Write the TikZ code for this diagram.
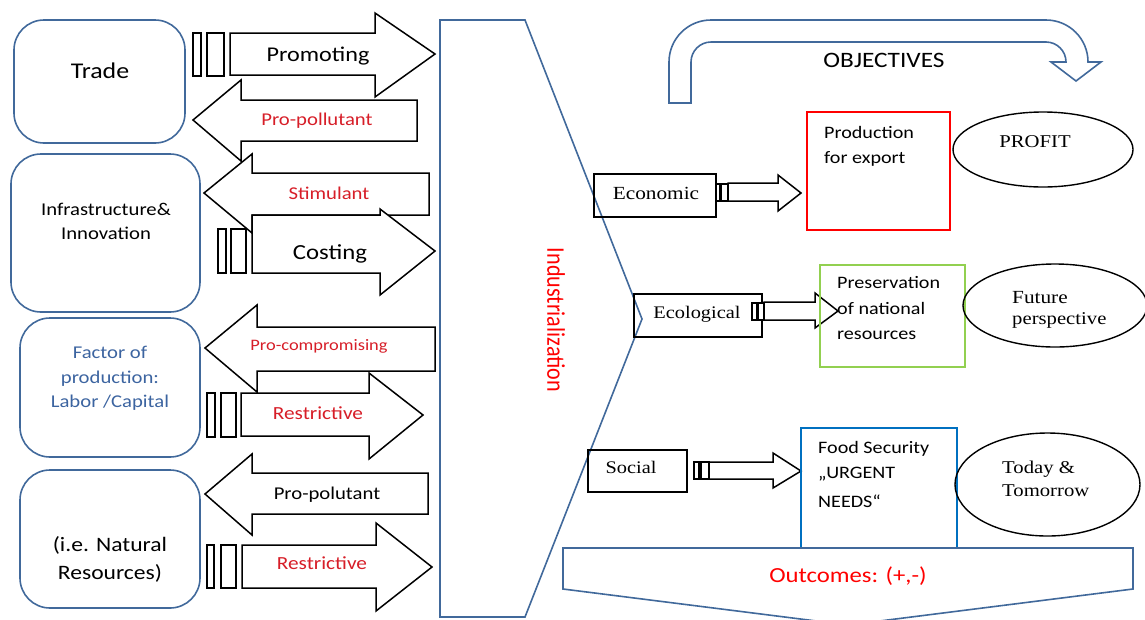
\documentclass[tikz,border=0pt]{standalone}
\usepackage{fontspec}
\setmainfont{Carlito}[FakeStretch=1.15]
\newfontfamily\serifF{Liberation Serif}[FakeStretch=1.15]
\newfontfamily\condF{Carlito}[FakeStretch=0.87]
\definecolor{frameblue}{RGB}{65,105,155}
\definecolor{labred}{RGB}{215,30,40}
\definecolor{brightred}{RGB}{255,0,0}
\definecolor{txtblue}{RGB}{60,100,160}
\definecolor{presgreen}{RGB}{146,208,80}
\definecolor{foodblue}{RGB}{0,112,192}
\newcommand\fsz[1]{\fontsize{#1}{#1}\selectfont}
\newcommand\BArr[8]{\draw[blk] (#1,#4) -- (#2,#4) -- (#2,#6) -- (#3,#8) -- (#2,#7) -- (#2,#5) -- (#1,#5) -- cycle;}
\begin{document}
\begin{tikzpicture}[x=1pt,y=-1pt,
  blk/.style={draw=black,line width=1.5pt,fill=white,line join=miter},
  barbox/.style={draw=black,line width=1.3pt,fill=white},
  frm/.style={draw=frameblue,line width=1.6pt},
  rbox/.style={frm,rounded corners=30pt},
  sbox/.style={draw=black,line width=1.5pt},
  txt/.style={inner sep=0pt,anchor=base},
  ltxt/.style={inner sep=0pt,anchor=base west}]
\useasboundingbox (0,0) rectangle (1145,619);
\clip (0,0) rectangle (1145,619);

% left rounded boxes
\draw[rbox] (14,20) rectangle (185,143);
\draw[rbox] (11,154) rectangle (200,312);
\draw[rbox] (20,318) rectangle (200,457);
\draw[rbox] (20,470) rectangle (200,608);
\node[txt,font=\fsz{22.5}] (trade) at (100,78) {Trade};
\node[txt,font=\fsz{18}] (infra1) at (106,215) {Infrastructure\&};
\node[txt,font=\fsz{18}] (infra2) at (106,239) {Innovation};
\node[txt,font=\fsz{18},text=txtblue] (fac1) at (110,358) {Factor of};
\node[txt,font=\fsz{18},text=txtblue] (fac2) at (110,383) {production:};
\node[txt,font=\fsz{18},text=txtblue] (fac3) at (110,407) {Labor /Capital};
\node[txt,font=\fsz{20.5}] (nat1) at (110,551) {(i.e. Natural};
\node[txt,font=\fsz{20.5}] (nat2) at (110,579) {Resources)};

% block arrows
\draw[barbox] (193,33) rectangle (201,76);
\draw[barbox] (207,33) rectangle (224,76);
\BArr{230}{375}{435}{33}{75}{13}{97}{54}
\node[txt,font=\fsz{21}] (promoting) at (318,61) {Promoting};

\BArr{417}{241}{193}{100}{141}{80}{161}{120}
\node[txt,font=\fsz{18},text=labred] (propoll) at (317,125) {Pro-pollutant};

\BArr{429}{252}{204}{173}{215}{154}{233}{193}
\node[txt,font=\fsz{18},text=labred] (stim) at (329,199) {Stimulant};

\draw[barbox] (218,229) rectangle (226,273);
\draw[barbox] (231,229) rectangle (246,273);
\BArr{252}{380}{435}{215}{273}{209}{295}{251}
\node[txt,font=\fsz{21.5}] (costing) at (330,259) {Costing};

\BArr{435}{257}{205}{327}{371}{305}{392}{348}
\node[txt,font=\fsz{16},text=labred] (procomp) at (319,350) {Pro-compromising};

\draw[barbox] (207,393) rectangle (215,437);
\draw[barbox] (221,393) rectangle (236,437);
\BArr{241}{369}{423}{393}{436}{373}{459}{415}
\node[txt,font=\fsz{18.5},text=labred] (restr1) at (318,419) {Restrictive};

\BArr{428}{252}{205}{473}{514}{454}{535}{494}
\node[txt,font=\fsz{18}] (propol) at (327,499) {Pro-polutant};

\draw[barbox] (207,545) rectangle (214,588);
\draw[barbox] (221,545) rectangle (236,588);
\BArr{242}{376}{432}{545}{588}{523}{611}{567}
\node[txt,font=\fsz{18.5},text=labred] (restr2) at (322,569) {Restrictive};

% industrialization
\draw[frm,line join=miter] (440,20) -- (525,20) -- (642,319) -- (525,617) -- (440,617) -- cycle;
\node[inner sep=0pt,rotate=-90,font=\condF\fsz{25.4},text=brightred] (indus) at (556,320) {Industrialization};

% objectives bent arrow
\draw[frm,line join=miter] (669,103) -- (669,62) .. controls (669,38.8) and (687.8,20) .. (711,20)
  -- (1046,20) .. controls (1069.2,20) and (1088,38.8) .. (1088,62)
  -- (1101,62) -- (1076,81) -- (1051,62) -- (1066,62)
  .. controls (1066,51) and (1057,42) .. (1046,42)
  -- (711,42) .. controls (700,42) and (691,51) .. (691,62) -- (691,103) -- cycle;
\node[txt,font=\fsz{22}] (obj) at (884,67) {OBJECTIVES};

% economic row
\draw[sbox] (594,174) rectangle (716,217);
\node[txt,font=\serifF\fsz{18.5}] (econ) at (656,199) {Economic};
\draw[barbox] (716,184) rectangle (720,201);
\draw[barbox] (721,184) rectangle (728,201);
\BArr{728}{778}{801}{183}{201}{175}{211}{193}
\draw[draw=brightred,line width=1.6pt] (807,112) rectangle (950,230);
\node[ltxt,font=\fsz{17.5}] (prod1) at (824,138) {Production};
\node[ltxt,font=\fsz{17.5}] (prod2) at (824,163) {for export};
\draw[line width=1.4pt] (1043,149.5) ellipse [x radius=90, y radius=37.5];
\node[txt,font=\serifF\fsz{18}] (profit) at (1035,147) {PROFIT};

% ecological row
\draw[sbox] (634,294) rectangle (762,337);
\node[txt,font=\serifF\fsz{17.7}] (ecol) at (697,318) {Ecological};
\draw[barbox] (752,303) rectangle (757,320);
\draw[barbox] (758,303) rectangle (764,320);
\BArr{764}{815}{838}{302}{320}{293}{328}{311}
\draw[draw=presgreen,line width=1.6pt] (820,265) rectangle (965,367);
\node[ltxt,font=\fsz{17.5}] (pres1) at (837,288) {Preservation};
\node[ltxt,font=\fsz{17.5}] (pres2) at (837,314) {of national};
\node[ltxt,font=\fsz{17.5}] (pres3) at (837,339) {resources};
\draw[line width=1.4pt] (1055,305.5) ellipse [x radius=92, y radius=41.5];
\node[ltxt,font=\serifF\fsz{18.5}] (fut1) at (1012,303) {Future};
\node[ltxt,font=\serifF\fsz{18}] (fut2) at (1012,324) {perspective};

% social row
\draw[sbox] (588,450) rectangle (687,492);
\node[txt,font=\serifF\fsz{17.7}] (social) at (631,473) {Social};
\draw[barbox] (694,462) rectangle (699,479);
\draw[barbox] (701,462) rectangle (709,479);
\BArr{709}{773}{801}{462}{479}{453}{488}{471}
\draw[draw=foodblue,line width=1.6pt] (801,428) rectangle (957,548);
\node[ltxt,font=\fsz{17.5}] (food1) at (818,453) {Food Security};
\node[ltxt,font=\fsz{17.5}] (food2) at (818,478) {„URGENT};
\node[ltxt,font=\fsz{17.5}] (food3) at (818,507) {NEEDS“};
\draw[line width=1.4pt] (1047.5,484.5) ellipse [x radius=92.5, y radius=51.5];
\node[ltxt,font=\serifF\fsz{18}] (today1) at (1002,473) {Today \&};
\node[ltxt,font=\serifF\fsz{18}] (today2) at (1002,496) {Tomorrow};

% outcomes
\draw[frm,fill=white,line join=miter] (563,548) -- (1133,548) -- (1133,589) -- (848,625) -- (563,589) -- cycle;
\node[txt,font=\fsz{21.5},text=brightred] (outc) at (848,582) {Outcomes: (+,-)};
\end{tikzpicture}
\end{document}
